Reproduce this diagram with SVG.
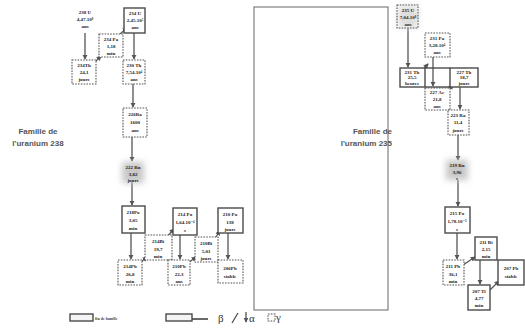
<svg xmlns="http://www.w3.org/2000/svg" width="525" height="328" viewBox="0 0 525 328">
<style>
.s{fill:#fff;stroke:#4a4a4a;stroke-width:1.4}
.d{fill:#fff;stroke:#555;stroke-width:1.1;stroke-dasharray:1.6 1.2}
.t{font-family:"Liberation Serif","DejaVu Serif",serif;font-weight:bold;font-size:5px;fill:#222;text-anchor:middle}
.fam{font-family:"Liberation Sans",Arial,sans-serif;font-weight:bold;font-size:8px;fill:#555}
.c line,.c path{stroke:#555;stroke-width:1.3;fill:none}
.lg{font-family:"Liberation Serif","DejaVu Serif",serif;font-size:11px;fill:#333}
</style>
<defs>
<marker id="a" viewBox="0 0 6 6" refX="5" refY="3" markerWidth="4" markerHeight="4" orient="auto"><path d="M0,0 L6,3 L0,6 z" fill="#555"/></marker>
<filter id="b" x="-50%" y="-50%" width="200%" height="200%"><feGaussianBlur stdDeviation="3"/></filter>
</defs>
<rect x="254" y="7" width="134" height="303" fill="none" stroke="#666" stroke-width="1"/>
<text class="fam" x="38" y="134" text-anchor="middle">Famille de</text>
<text class="fam" x="38" y="146" text-anchor="middle">l'uranium 238</text>
<text class="fam" x="392" y="134" text-anchor="end">Famille de</text>
<text class="fam" x="392" y="146" text-anchor="end">l'uranium 235</text>
<g class="c">
<line x1="85" y1="33" x2="85" y2="59" marker-end="url(#a)"/>
<line x1="95" y1="62" x2="101" y2="56" marker-end="url(#a)"/>
<line x1="120" y1="34" x2="127" y2="28" marker-end="url(#a)"/>
<line x1="134" y1="33" x2="134" y2="59" marker-end="url(#a)"/>
<line x1="133" y1="84" x2="133" y2="107" marker-end="url(#a)"/>
<line x1="132" y1="137" x2="132" y2="161" marker-end="url(#a)"/>
<line x1="132" y1="182" x2="132" y2="205" marker-end="url(#a)"/>
<line x1="131" y1="233" x2="131" y2="259" marker-end="url(#a)"/>
<line x1="141" y1="262" x2="147" y2="257" marker-end="url(#a)"/>
<line x1="166" y1="238" x2="174" y2="229" marker-end="url(#a)"/>
<line x1="180" y1="235" x2="180" y2="259" marker-end="url(#a)"/>
<line x1="188" y1="263" x2="196" y2="257" marker-end="url(#a)"/>
<line x1="213" y1="241" x2="220" y2="231" marker-end="url(#a)"/>
<line x1="228" y1="233" x2="228" y2="259" marker-end="url(#a)"/>
<line x1="408" y1="28" x2="408" y2="67" marker-end="url(#a)"/>
<line x1="420" y1="73" x2="428" y2="64" marker-end="url(#a)"/>
<line x1="433" y1="57" x2="433" y2="86" marker-end="url(#a)"/>
<line x1="447" y1="92" x2="453" y2="85" marker-end="url(#a)"/>
<line x1="460" y1="87" x2="460" y2="109" marker-end="url(#a)"/>
<line x1="458" y1="135" x2="458" y2="160" marker-end="url(#a)"/>
<line x1="458" y1="180" x2="458" y2="206" marker-end="url(#a)"/>
<line x1="457" y1="233" x2="457" y2="259" marker-end="url(#a)"/>
<line x1="463" y1="265" x2="475" y2="257" marker-end="url(#a)"/>
<line x1="480" y1="260" x2="480" y2="284" marker-end="url(#a)"/>
<line x1="490" y1="290" x2="499" y2="281" marker-end="url(#a)"/>
</g>
<g id="u238"><text class="t" x="85" y="14">238 U</text><text class="t" x="85" y="21">4,47.10⁹</text><text class="t" x="85" y="28">ans</text></g>
<g id="th234"><rect class="d" x="72" y="60" width="24" height="24"/><text class="t" x="84" y="67">234Th</text><text class="t" x="84" y="74">24,1</text><text class="t" x="84" y="81">jours</text></g>
<g id="pa234"><rect class="d" x="99" y="34" width="24" height="23"/><text class="t" x="111" y="41">234 Pa</text><text class="t" x="111" y="48">1,18</text><text class="t" x="111" y="55">min</text></g>
<g id="u234"><rect class="s" x="124" y="8" width="21" height="25"/><text class="t" x="135" y="15">234 U</text><text class="t" x="135" y="22">2,45.10⁵</text><text class="t" x="135" y="29">ans</text></g>
<g id="th230"><rect class="d" x="123" y="60" width="22" height="24"/><text class="t" x="134" y="67">230 Th</text><text class="t" x="134" y="74">7,54.10⁴</text><text class="t" x="134" y="81">ans</text></g>
<g id="ra226"><rect class="d" x="123" y="108" width="24" height="29"/><text class="t" x="135" y="116">226Ra</text><text class="t" x="135" y="124">1600</text><text class="t" x="135" y="132">ans</text></g>
<g id="rn222"><rect x="122" y="162" width="22" height="21" fill="#c8c8c8" filter="url(#b)"/><text class="t" x="133" y="169">222 Rn</text><text class="t" x="133" y="176">3,82</text><text class="t" x="133" y="182">jours</text></g>
<g id="po218"><rect class="s" x="122" y="206" width="23" height="27"/><text class="t" x="133" y="214">218Po</text><text class="t" x="133" y="222">3,05</text><text class="t" x="133" y="230">min</text></g>
<g id="pb214"><rect class="d" x="118" y="260" width="24" height="25"/><text class="t" x="130" y="268">214Pb</text><text class="t" x="130" y="276">26,8</text><text class="t" x="130" y="283">min</text></g>
<g id="bi214"><rect class="d" x="145" y="235" width="27" height="25"/><text class="t" x="158" y="243">214Bi</text><text class="t" x="158" y="251">19,7</text><text class="t" x="158" y="258">min</text></g>
<g id="po214"><rect class="s" x="173" y="208" width="24" height="27"/><text class="t" x="185" y="216">214 Po</text><text class="t" x="185" y="224">1,64.10⁻⁴</text><text class="t" x="185" y="232">s</text></g>
<g id="pb210"><rect class="d" x="168" y="260" width="22" height="25"/><text class="t" x="179" y="268">210Pb</text><text class="t" x="179" y="276">22,3</text><text class="t" x="179" y="283">ans</text></g>
<g id="bi210"><rect class="d" x="195" y="237" width="23" height="25"/><text class="t" x="206" y="245">210Bi</text><text class="t" x="206" y="253">5,01</text><text class="t" x="206" y="260">jours</text></g>
<g id="po210"><rect class="s" x="218" y="208" width="25" height="25"/><text class="t" x="230" y="216">210 Po</text><text class="t" x="230" y="224">138</text><text class="t" x="230" y="231">jours</text></g>
<g id="pb206"><rect class="d" x="218" y="260" width="25" height="23"/><text class="t" x="230" y="270">206Pb</text><text class="t" x="230" y="278">stable</text></g>
<g id="u235"><rect x="398" y="6" width="20" height="22" fill="#ddd" filter="url(#b)"/><rect class="d" x="397" y="5" width="21" height="23" style="fill:none"/><text class="t" x="408" y="12">235 U</text><text class="t" x="408" y="19">7,04.10⁸</text><text class="t" x="408" y="26">ans</text></g>
<g id="pa231"><rect class="d" x="425" y="33" width="25" height="24"/><text class="t" x="437" y="40">231 Pa</text><text class="t" x="437" y="47">3,28.10⁴</text><text class="t" x="437" y="54">ans</text></g>
<g id="th231"><rect class="s" x="400" y="68" width="25" height="19"/><text class="t" x="412" y="73.5">231 Th</text><text class="t" x="412" y="79">25,5</text><text class="t" x="412" y="85">heures</text></g>
<g id="th227"><rect class="s" x="450" y="68" width="28" height="19"/><text class="t" x="464" y="73.5">227 Th</text><text class="t" x="464" y="79">18,7</text><text class="t" x="464" y="85">jours</text></g>
<g id="ac227"><rect class="d" x="425" y="88" width="25" height="22"/><text class="t" x="437" y="94">227 Ac</text><text class="t" x="437" y="101">21,8</text><text class="t" x="437" y="108">ans</text></g>
<line x1="425" y1="68" x2="450" y2="68" stroke="#4a4a4a" stroke-width="1.4"/>
<line x1="425" y1="87" x2="450" y2="87" stroke="#4a4a4a" stroke-width="1.4"/>
<g id="ra223"><rect class="d" x="448" y="110" width="21" height="25"/><text class="t" x="458" y="117">223 Ra</text><text class="t" x="458" y="124">11,4</text><text class="t" x="458" y="132">jours</text></g>
<g id="rn219"><rect x="446" y="160" width="22" height="20" fill="#c8c8c8" filter="url(#b)"/><text class="t" x="457" y="167">219 Rn</text><text class="t" x="457" y="174">3,96</text><text class="t" x="457" y="180">s</text></g>
<g id="po215"><rect class="s" x="445" y="207" width="25" height="26"/><text class="t" x="457" y="215">215 Po</text><text class="t" x="457" y="223">1,78.10⁻³</text><text class="t" x="457" y="231">s</text></g>
<g id="pb211"><rect class="d" x="443" y="260" width="21" height="25"/><text class="t" x="453" y="268">211 Pb</text><text class="t" x="453" y="276">36,1</text><text class="t" x="453" y="283">min</text></g>
<g id="bi211"><rect class="s" x="475" y="237" width="22" height="23"/><text class="t" x="486" y="244">211 Bi</text><text class="t" x="486" y="251">2,15</text><text class="t" x="486" y="258">min</text></g>
<g id="tl207"><rect class="s" x="468" y="285" width="22" height="25"/><text class="t" x="479" y="293">207 Tl</text><text class="t" x="479" y="300">4,77</text><text class="t" x="479" y="307">min</text></g>
<g id="pb207"><rect class="s" x="498" y="260" width="26" height="25"/><text class="t" x="511" y="270">207 Pb</text><text class="t" x="511" y="278">stable</text></g>
<g id="legend">
<rect class="s" x="70" y="314" width="23" height="7" style="fill:#f4f4f4"/>
<text x="95" y="320" font-family="Liberation Serif,serif" font-size="4px" font-weight="bold" fill="#444">fin de famille</text>
<rect class="s" x="166" y="314" width="26" height="7" style="fill:#f4f4f4"/>
<line x1="192" y1="319" x2="208" y2="319" stroke="#444" stroke-width="1.6"/>
<text class="lg" x="218" y="322">β</text>
<line x1="232" y1="323" x2="238" y2="313" stroke="#444" stroke-width="1.2"/>
<line x1="246" y1="312" x2="246" y2="322" stroke="#444" stroke-width="1.2" marker-end="url(#a)"/>
<text class="lg" x="249" y="322">α</text>
<rect class="d" x="268" y="314" width="7" height="7" style="fill:none"/>
<text class="lg" x="276" y="321" font-size="8px">γ</text>
</g>
</svg>
